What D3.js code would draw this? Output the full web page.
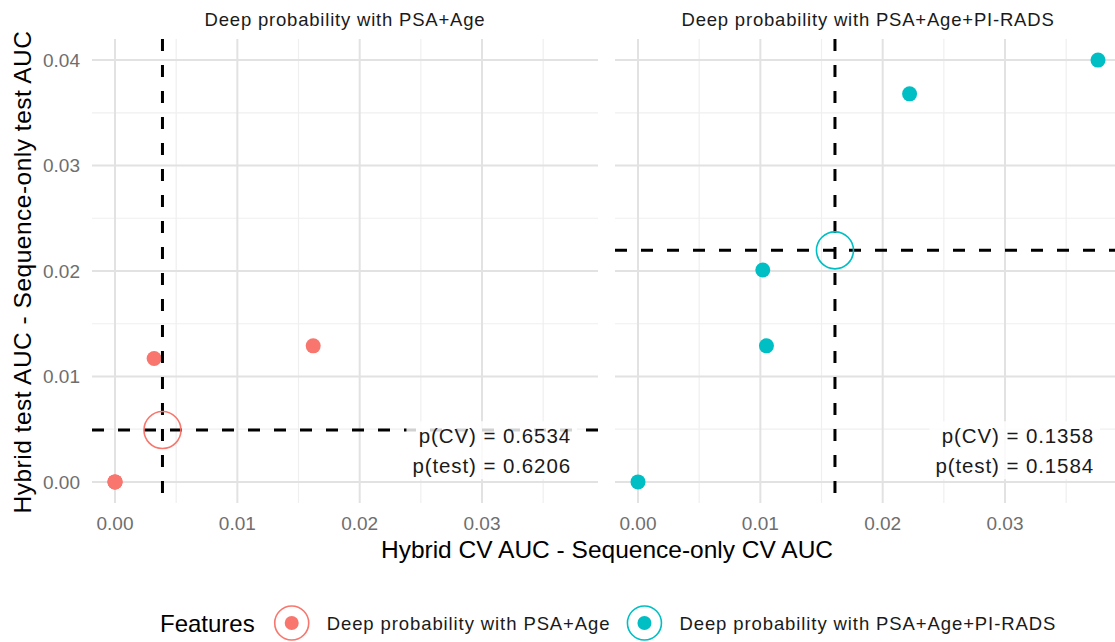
<!DOCTYPE html>
<html>
<head>
<meta charset="utf-8">
<script src="https://cdn.jsdelivr.net/npm/d3@7"></script>
<style>
  html, body { margin: 0; padding: 0; background: #fff; }
  svg { display: block; font-family: "Liberation Sans", Arial, Helvetica, sans-serif; }
</style>
</head>
<body>
<svg id="chart" width="1115" height="642"></svg>
<script>
// Facet titles (one per feature set)
const featureSets = ["Deep probability with PSA+Age", "Deep probability with PSA+Age+PI-RADS"];
const seriesColors = ["#F8766D", "#00BFC4"];

// Hybrid minus sequence-only AUC differences, one point per model
const cvDiffPsaAge = [0, 0, 0, 0.0032, 0.0162];
const testDiffPsaAge = [0, 0, 0, 0.0117, 0.0129];
const cvDiffPsaAgePirads = [0, 0.0102, 0.0105, 0.0222, 0.0376];
const testDiffPsaAgePirads = [0, 0.0201, 0.0129, 0.0368, 0.0400];

// Test p-values printed in each facet
const pValueCV = [0.6534, 0.1358];
const pValueTest = [0.6206, 0.1584];
const pLabelY = 0.003;

// Axis ticks
const xTicks = [0, 0.01, 0.02, 0.03];
const xMinor = [0.005, 0.015, 0.025, 0.035];
const yTicks = [0, 0.01, 0.02, 0.03, 0.04];
const yMinor = [0.005, 0.015, 0.025, 0.035];

const cvSeries = [cvDiffPsaAge, cvDiffPsaAgePirads];
const testSeries = [testDiffPsaAge, testDiffPsaAgePirads];

const svg = d3.select("#chart");
const panelTop = 39, panelBottom = 503;
const panelLeft = [92, 615];
const panelWidth = 506;

// shared scales with ggplot-style 5% expansion
const allX = cvSeries.flat(), allY = testSeries.flat();
const [x0, x1] = d3.extent(allX), [y0, y1] = d3.extent(allY);
const xPad = (x1 - x0) * 0.05, yPad = (y1 - y0) * 0.05;
const y = d3.scaleLinear().domain([y0 - yPad, y1 + yPad]).range([panelBottom, panelTop]);

const fmt = d3.format(".2f");

featureSets.forEach((name, i) => {
  const x = d3.scaleLinear().domain([x0 - xPad, x1 + xPad]).range([panelLeft[i], panelLeft[i] + panelWidth]);
  const g = svg.append("g");

  // minor grid
  g.selectAll(".vminor").data(xMinor).join("line")
    .attr("x1", d => x(d)).attr("x2", d => x(d))
    .attr("y1", panelTop).attr("y2", panelBottom)
    .attr("stroke", "#EFEFEF").attr("stroke-width", 1.2);
  g.selectAll(".hminor").data(yMinor).join("line")
    .attr("x1", panelLeft[i]).attr("x2", panelLeft[i] + panelWidth)
    .attr("y1", d => y(d)).attr("y2", d => y(d))
    .attr("stroke", "#EFEFEF").attr("stroke-width", 1.2);
  // major grid
  g.selectAll(".vmajor").data(xTicks).join("line")
    .attr("x1", d => x(d)).attr("x2", d => x(d))
    .attr("y1", panelTop).attr("y2", panelBottom)
    .attr("stroke", "#E2E2E2").attr("stroke-width", 2);
  g.selectAll(".hmajor").data(yTicks).join("line")
    .attr("x1", panelLeft[i]).attr("x2", panelLeft[i] + panelWidth)
    .attr("y1", d => y(d)).attr("y2", d => y(d))
    .attr("stroke", "#E2E2E2").attr("stroke-width", 2);

  // x tick labels
  g.selectAll(".xt").data(xTicks).join("text")
    .attr("x", d => x(d)).attr("y", 530)
    .attr("text-anchor", "middle").attr("font-size", 19).attr("fill", "#6E6E6E")
    .text(fmt);

  // y tick labels on the first facet only
  if (i === 0) {
    g.selectAll(".yt").data(yTicks).join("text")
      .attr("x", 80).attr("y", d => y(d)).attr("dy", "0.36em")
      .attr("text-anchor", "end").attr("font-size", 19).attr("fill", "#6E6E6E")
      .text(fmt);
  }

  // facet strip title
  g.append("text")
    .attr("x", panelLeft[i] + panelWidth / 2).attr("y", 26)
    .attr("text-anchor", "middle").attr("font-size", 18.5).attr("letter-spacing", 0.8)
    .attr("fill", "#1A1A1A").text(name);

  const pts = cvSeries[i].map((cv, k) => ({ cv, test: testSeries[i][k] }));
  const meanCV = d3.mean(cvSeries[i]);
  const meanTest = d3.mean(testSeries[i]);

  // points
  g.selectAll(".pt").data(pts).join("circle")
    .attr("cx", d => x(d.cv)).attr("cy", d => y(d.test)).attr("r", 7.5)
    .attr("fill", seriesColors[i]);

  // p-value label
  const lab = g.append("g");
  const bg = lab.append("rect");
  const tx = lab.append("text")
    .attr("text-anchor", "end").attr("font-size", 20.5).attr("letter-spacing", 0.9)
    .attr("fill", "#1A1A1A");
  const lx = x(x1) - 4, ly = y(pLabelY);
  tx.append("tspan").attr("x", lx).attr("y", ly - 7).text(`p(CV) = ${pValueCV[i]}`);
  tx.append("tspan").attr("x", lx).attr("y", ly + 23).text(`p(test) = ${pValueTest[i]}`);

  // mean reference lines
  g.append("line")
    .attr("x1", x(meanCV)).attr("x2", x(meanCV))
    .attr("y1", panelTop).attr("y2", panelBottom)
    .attr("stroke", "#000").attr("stroke-width", 3).attr("stroke-dasharray", "12,14");
  g.append("line")
    .attr("x1", panelLeft[i]).attr("x2", panelLeft[i] + panelWidth)
    .attr("y1", y(meanTest)).attr("y2", y(meanTest))
    .attr("stroke", "#000").attr("stroke-width", 3).attr("stroke-dasharray", "12,14");

  // label background drawn over the dashed line
  lab.raise();
  const bb = tx.node().getBBox();
  bg.attr("x", bb.x - 6).attr("y", ly - 29).attr("width", bb.width + 12).attr("height", 58)
    .attr("rx", 4).attr("fill", "#fff").attr("fill-opacity", 0.82);

  // mean marker
  g.append("circle")
    .attr("cx", x(meanCV)).attr("cy", y(meanTest)).attr("r", 18.5)
    .attr("fill", "none").attr("stroke", seriesColors[i]).attr("stroke-width", 1.6);
});

// axis titles
svg.append("text")
  .attr("x", 607).attr("y", 558).attr("text-anchor", "middle")
  .attr("font-size", 24.5).attr("fill", "#000")
  .text("Hybrid CV AUC - Sequence-only CV AUC");
svg.append("text")
  .attr("transform", "translate(31,272) rotate(-90)").attr("text-anchor", "middle")
  .attr("font-size", 24.5).attr("letter-spacing", 0.5).attr("fill", "#000")
  .text("Hybrid test AUC - Sequence-only test AUC");

// legend
const legend = svg.append("g");
const legY = 623;
const title = legend.append("text")
  .attr("x", 160).attr("y", legY).attr("dy", "0.36em")
  .attr("font-size", 24).attr("fill", "#000").text("Features");
let cursor = 160 + title.node().getComputedTextLength() + 19;
featureSets.forEach((name, i) => {
  const cx = cursor + 18;
  legend.append("circle").attr("cx", cx).attr("cy", legY).attr("r", 17)
    .attr("fill", "none").attr("stroke", seriesColors[i]).attr("stroke-width", 1.6);
  legend.append("circle").attr("cx", cx).attr("cy", legY).attr("r", 7)
    .attr("fill", seriesColors[i]);
  const t = legend.append("text")
    .attr("x", cx + 35).attr("y", legY).attr("dy", "0.36em")
    .attr("font-size", 18.5).attr("letter-spacing", 0.9).attr("fill", "#1A1A1A").text(name);
  cursor = cx + 35 + t.node().getComputedTextLength() + 16;
});
</script>
</body>
</html>
